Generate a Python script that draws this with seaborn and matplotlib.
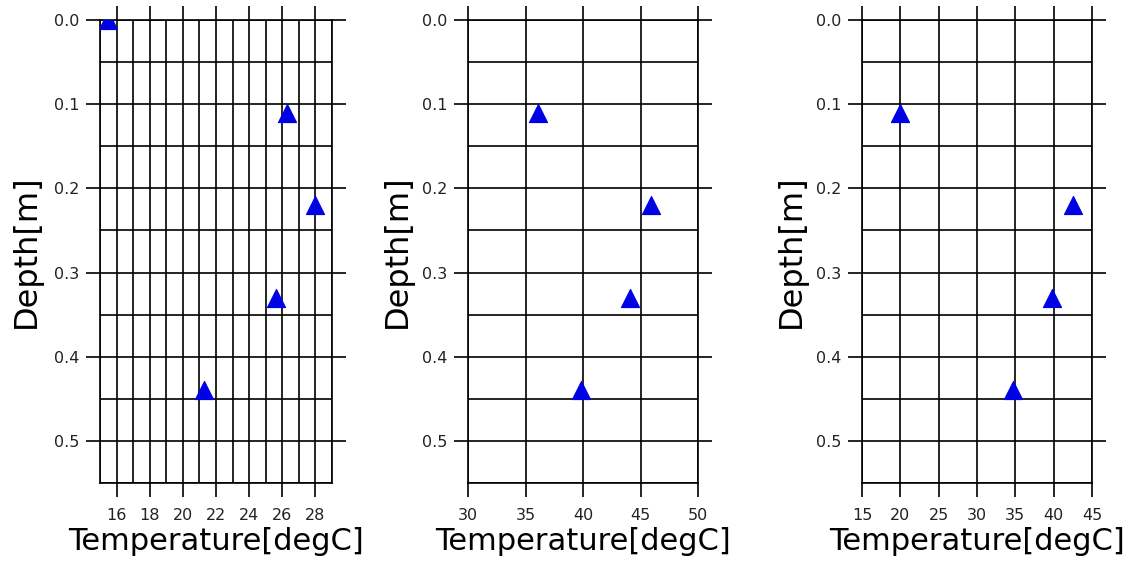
import numpy as np
import pandas as pd
import matplotlib
matplotlib.use("Agg")
import matplotlib.pyplot as plt
from matplotlib.ticker import MultipleLocator
import seaborn as sns

# ---- data ----
depth1 = [0.0, 0.11, 0.22, 0.33, 0.44]
temp1 = [15.5, 26.3, 28.0, 25.6, 21.3]
depth2 = [0.11, 0.22, 0.33, 0.44]
temp2 = [36.1, 45.9, 44.1, 39.8]
depth3 = [0.11, 0.22, 0.33, 0.44]
temp3 = [19.9, 42.5, 39.8, 34.7]

xlims = [(15, 29), (30, 50), (15, 45)]
xmajor = [2, 5, 5]
xminor = [1, None, None]
xlabel = "Temperature[degC]"
ylabel = "Depth[m]"

sns.set_theme(style="white")
plt.rcParams['font.family'] = ['DejaVu Sans']

fig = plt.figure(figsize=(11.39, 5.62), dpi=100)
lefts = [100, 468, 862]
widths = [232, 230, 230]
ylab_x = [-0.252, -0.24, -0.24]
top_px, bot_px = 20, 483
W, H = 1139, 562

datasets = [(temp1, depth1), (temp2, depth2), (temp3, depth3)]
for i, (t, d) in enumerate(datasets):
    ax = fig.add_axes([lefts[i] / W, 1 - bot_px / H, widths[i] / W, (bot_px - top_px) / H])
    df = pd.DataFrame({"t": t, "d": d})
    sns.scatterplot(data=df, x="t", y="d", marker="^", s=170, color="#0000e6",
                    edgecolor="#0000e6", linewidth=0.8, ax=ax, zorder=5)
    ax.set_xlim(*xlims[i])
    ax.set_ylim(0.55, 0.0)
    ax.xaxis.set_major_locator(MultipleLocator(xmajor[i]))
    if xminor[i]:
        ax.xaxis.set_minor_locator(MultipleLocator(xminor[i]))
    ax.yaxis.set_major_locator(MultipleLocator(0.1))
    ax.yaxis.set_minor_locator(MultipleLocator(0.05))
    ax.yaxis.set_major_formatter(matplotlib.ticker.FormatStrFormatter("%.1f"))
    ax.grid(True, which="both", color="black", linewidth=1.2)
    ax.set_axisbelow(True)
    for sp in ax.spines.values():
        sp.set_visible(True)
        sp.set_color("black")
        sp.set_linewidth(1.2)
    ax.tick_params(which="major", direction="out", length=10, width=1.2, color="black",
                   top=True, right=True, bottom=True, left=True,
                   labeltop=False, labelright=False, labelsize=11.5, labelcolor="#222222")
    ax.tick_params(axis="x", which="major", pad=8)
    ax.tick_params(axis="y", which="major", pad=5)
    ax.tick_params(which="minor", length=0)
    ax.set_xlabel(xlabel, fontsize=22, color="black")
    ax.set_ylabel(ylabel, fontsize=23, color="black")
    ax.xaxis.set_label_coords(0.5, -0.095)
    ax.yaxis.set_label_coords(ylab_x[i], 0.5)

fig.savefig("out.png", dpi=100, facecolor="white")
